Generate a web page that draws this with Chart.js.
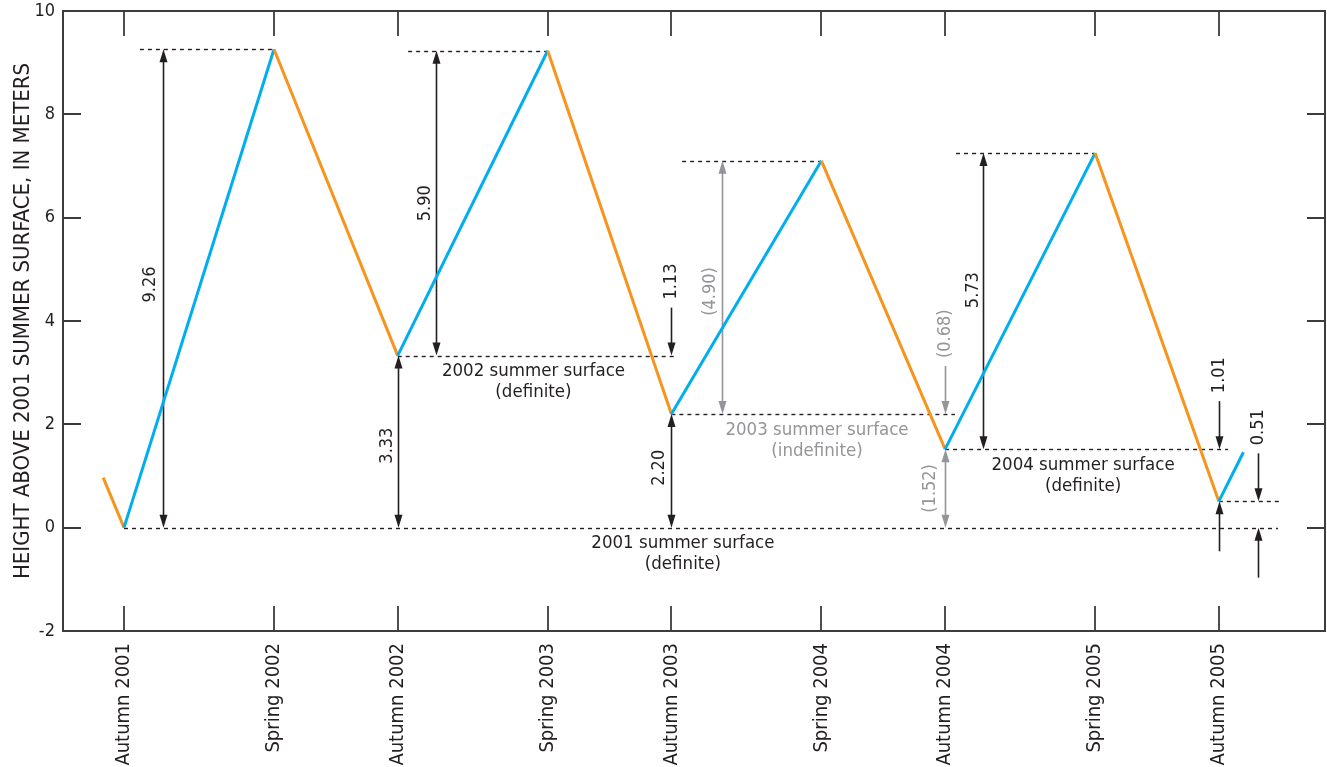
<!DOCTYPE html>
<html>
<head>
<meta charset="utf-8">
<script src="https://cdn.jsdelivr.net/npm/chart.js@4"></script>
<style>
  html, body { margin: 0; padding: 0; background: #fff; }
  #wrap { width: 1327px; height: 767px; }
</style>
</head>
<body>
<div id="wrap"><canvas id="chart" width="1327" height="767"></canvas></div>
<script>
// Season tick marks, in years after Autumn 2001
const seasonLabels = ['Autumn 2001', 'Spring 2002', 'Autumn 2002', 'Spring 2003', 'Autumn 2003',
                      'Spring 2004', 'Autumn 2004', 'Spring 2005', 'Autumn 2005'];
const seasonPositions = [0, 0.548, 1, 1.548, 2, 2.548, 3, 3.548, 4];

// Surface height record (time in years after Autumn 2001, height in meters)
const recordTime   = [-0.076, 0, 0.548, 1, 1.548, 2, 2.548, 3, 3.548, 4, 4.09];
const recordHeight = [0.97, 0, 9.26, 3.33, 9.23, 2.20, 7.10, 1.52, 7.25, 0.51, 1.46];

const heightTicks = [-2, 0, 2, 4, 6, 8, 10];

// Summer surfaces named below their dashed level
const surfaceNames   = ['2001 summer surface', '2002 summer surface', '2003 summer surface', '2004 summer surface'];
const surfaceQuality = ['(definite)', '(definite)', '(indefinite)', '(definite)'];

const FONT = '"Liberation Sans Narrow", "DejaVu Sans Condensed", "Arial Narrow", sans-serif';
const INK = '#231f20';
const GREY = '#939598';
const BLUE = '#00aeef';
const ORANGE = '#f7941d';

// indices into the record
const AUT01 = 1, SPR02 = 2, AUT02 = 3, SPR03 = 4, AUT03 = 5, SPR04 = 6, AUT04 = 7, SPR05 = 8, AUT05 = 9;
const H = recordHeight;

// dashed levels: height plus horizontal extent (years)
const levels = [
  { y: H[AUT01], from: 0,     to: 4.216 },
  { y: H[SPR02], from: 0.058, to: 0.548 },
  { y: H[AUT02], from: 1,     to: 2.013 },
  { y: H[SPR03], from: 1.038, to: 1.548 },
  { y: H[AUT03], from: 2,     to: 3.036 },
  { y: H[SPR04], from: 2.039, to: 2.548 },
  { y: H[AUT04], from: 3,     to: 4.034 },
  { y: H[SPR05], from: 3.040, to: 3.548 },
  { y: H[AUT05], from: 4,     to: 4.224 }
];

// two-headed measurements between levels
const spans = [
  { x: 0.1414, lo: H[AUT01], hi: H[SPR02], grey: false, labelDx: -13, labelDy: -4 },
  { x: 1,      lo: H[AUT01], hi: H[AUT02], grey: false, labelDx: -11, labelDy: 4 },
  { x: 1.139,  lo: H[AUT02], hi: H[SPR03], grey: false, labelDx: -11 },
  { x: 2,      lo: H[AUT01], hi: H[AUT03], grey: false, labelDx: -12, labelDy: -3 },
  { x: 2.184,  lo: H[AUT03], hi: H[SPR04], grey: true,  labelDx: -12, labelDy: 4 },
  { x: 3,      lo: H[AUT01], hi: H[AUT04], grey: true,  labelDx: -15 },
  { x: 3.140,  lo: H[AUT04], hi: H[SPR05], grey: false, labelDx: -10, labelDy: -11 }
];

// small gaps marked with pointers from outside
const gaps = [
  { x: 2,     lo: H[AUT03], hi: H[AUT02], grey: false, below: false },
  { x: 3,     lo: H[AUT04], hi: H[AUT03], grey: true,  below: false },
  { x: 4,     lo: H[AUT05], hi: H[AUT04], grey: false, below: true },
  { x: 4.142, lo: H[AUT01], hi: H[AUT05], grey: false, below: true }
];

// surface captions: centre (years) and level
const captions = [
  { x: 2.042, y: H[AUT01], grey: false },
  { x: 1.496, y: H[AUT02], grey: false },
  { x: 2.532, y: H[AUT03], grey: true },
  { x: 3.504, y: H[AUT04], grey: false }
];

function fmt(v) { return v.toFixed(2); }

function head(ctx, x, y, dir) {
  // dir -1: tip points up, +1: tip points down; tip sits on (x, y)
  ctx.beginPath();
  ctx.moveTo(x, y);
  ctx.lineTo(x - 4, y - dir * 13);
  ctx.lineTo(x + 4, y - dir * 13);
  ctx.closePath();
  ctx.fill();
}

function vText(ctx, text, x, y, align) {
  ctx.save();
  ctx.translate(x, y);
  ctx.rotate(-Math.PI / 2);
  ctx.textAlign = align;
  ctx.textBaseline = 'middle';
  ctx.fillText(text, 0, 0);
  ctx.restore();
}

const framePlugin = {
  id: 'frame',
  beforeDatasetsDraw(chart) {
    const { ctx, chartArea: a, scales } = chart;
    ctx.save();
    ctx.strokeStyle = '#3c3b3d';
    ctx.lineWidth = 2;
    ctx.strokeRect(a.left, a.top, a.right - a.left, a.bottom - a.top);
    ctx.lineWidth = 1.8;
    ctx.beginPath();
    heightTicks.forEach(v => {
      const y = Math.round(scales.y.getPixelForValue(v));
      ctx.moveTo(a.left, y); ctx.lineTo(a.left + 18, y);
      ctx.moveTo(a.right, y); ctx.lineTo(a.right - 18, y);
    });
    seasonPositions.forEach(v => {
      const x = Math.round(scales.x.getPixelForValue(v));
      ctx.moveTo(x, a.top); ctx.lineTo(x, a.top + 25);
      ctx.moveTo(x, a.bottom); ctx.lineTo(x, a.bottom - 25);
    });
    ctx.stroke();
    ctx.restore();
  }
};

const notePlugin = {
  id: 'notes',
  beforeDatasetsDraw(chart) {
    const { ctx, scales } = chart;
    const X = v => scales.x.getPixelForValue(v);
    const Y = v => scales.y.getPixelForValue(v);
    ctx.save();

    // dashed levels
    ctx.strokeStyle = INK;
    ctx.lineWidth = 1.4;
    ctx.setLineDash([4, 4]);
    levels.forEach(l => {
      const y = Math.round(Y(l.y)) + 0.5;
      ctx.beginPath();
      ctx.moveTo(X(l.from), y);
      ctx.lineTo(X(l.to), y);
      ctx.stroke();
    });
    ctx.setLineDash([]);

    // two-headed measurements
    ctx.font = '18px ' + FONT;
    spans.forEach(s => {
      const col = s.grey ? GREY : INK;
      ctx.strokeStyle = col; ctx.fillStyle = col; ctx.lineWidth = 1.6;
      const x = Math.round(X(s.x)) + 0.5, y0 = Y(s.lo), y1 = Y(s.hi);
      ctx.beginPath(); ctx.moveTo(x, y0 - 6); ctx.lineTo(x, y1 + 6); ctx.stroke();
      head(ctx, x, y1, -1);
      head(ctx, x, y0, 1);
      const t = s.grey ? '(' + fmt(s.hi - s.lo) + ')' : fmt(s.hi - s.lo);
      vText(ctx, t, x + s.labelDx, (y0 + y1) / 2 + (s.labelDy || 0), 'center');
    });

    // pointers for small gaps
    gaps.forEach(g => {
      const col = g.grey ? GREY : INK;
      ctx.strokeStyle = col; ctx.fillStyle = col; ctx.lineWidth = 1.6;
      const x = Math.round(X(g.x)) + 0.5, yHi = Y(g.hi), yLo = Y(g.lo);
      ctx.beginPath(); ctx.moveTo(x, yHi - 48); ctx.lineTo(x, yHi - 6); ctx.stroke();
      head(ctx, x, yHi, 1);
      if (g.below) {
        ctx.beginPath(); ctx.moveTo(x, yLo + 50); ctx.lineTo(x, yLo + 6); ctx.stroke();
        head(ctx, x, yLo, -1);
      }
      const t = g.grey ? '(' + fmt(g.hi - g.lo) + ')' : fmt(g.hi - g.lo);
      vText(ctx, t, x, yHi - 56, 'left');
    });

    // surface captions
    ctx.font = '18.5px ' + FONT;
    ctx.textAlign = 'center';
    ctx.textBaseline = 'middle';
    captions.forEach((c, i) => {
      ctx.fillStyle = c.grey ? GREY : INK;
      const x = X(c.x), y = Y(c.y);
      ctx.fillText(surfaceNames[i], x, y + 16);
      ctx.fillText(surfaceQuality[i], x, y + 37);
    });
    ctx.restore();
  }
};

new Chart(document.getElementById('chart'), {
  type: 'line',
  data: {
    datasets: [{
      data: recordTime.map((t, i) => ({ x: t, y: recordHeight[i] })),
      borderColor: BLUE,
      borderWidth: 3,
      pointRadius: 0,
      tension: 0,
      segment: {
        borderColor: c => (c.p1.parsed.y < c.p0.parsed.y ? ORANGE : BLUE)
      }
    }]
  },
  options: {
    responsive: false,
    animation: false,
    devicePixelRatio: 1,
    layout: { padding: { top: 11, right: 2, left: 0, bottom: 0 } },
    plugins: { legend: { display: false }, tooltip: { enabled: false } },
    scales: {
      x: {
        type: 'linear',
        min: -0.2229,
        max: 4.388,
        grid: { display: false, drawTicks: false },
        border: { display: false },
        afterBuildTicks: s => { s.ticks = seasonPositions.map(v => ({ value: v })); },
        afterFit: s => { s.height = 136; s.paddingLeft = 0; s.paddingRight = 0; },
        ticks: {
          autoSkip: false,
          minRotation: 90,
          maxRotation: 90,
          padding: 12,
          color: INK,
          font: { family: FONT, size: 20 },
          callback: (v, i) => seasonLabels[i]
        }
      },
      y: {
        min: -2,
        max: 10,
        grid: { display: false, drawTicks: false },
        border: { display: false },
        afterBuildTicks: s => { s.ticks = heightTicks.map(v => ({ value: v })); },
        afterFit: s => { s.width = 63; s.paddingTop = 0; s.paddingBottom = 0; },
        ticks: {
          padding: 8,
          color: INK,
          font: { family: FONT, size: 18 },
          callback: v => String(v)
        },
        title: {
          display: true,
          text: 'HEIGHT ABOVE 2001 SUMMER SURFACE, IN METERS',
          color: INK,
          font: { family: FONT, size: 22 },
          padding: { top: 10, bottom: 0 }
        }
      }
    }
  },
  plugins: [framePlugin, notePlugin]
});
</script>
</body>
</html>
